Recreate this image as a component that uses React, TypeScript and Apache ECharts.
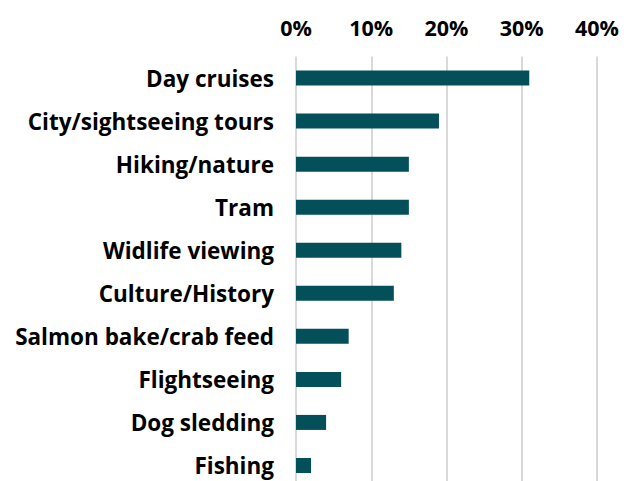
import React, { useEffect, useRef } from "react";
import * as echarts from "echarts";

const categories = [
  "Day cruises",
  "City/sightseeing tours",
  "Hiking/nature",
  "Tram",
  "Widlife viewing",
  "Culture/History",
  "Salmon bake/crab feed",
  "Flightseeing",
  "Dog sledding",
  "Fishing",
];
const values = [31, 19, 15, 15, 14, 13, 7, 6, 4, 2];
const xTicks = { min: 0, max: 40, interval: 10 };

export default function App() {
  const ref = useRef<HTMLDivElement>(null);
  useEffect(() => {
    if (!ref.current) return;
    const chart = echarts.init(ref.current, null, { renderer: "svg" });
    const font = "'Open Sans', 'Segoe UI', sans-serif";
    chart.setOption({
      animation: false,
      grid: { left: 296, right: 38, top: 56.5, bottom: 0, containLabel: false },
      xAxis: {
        type: "value",
        position: "top",
        min: xTicks.min,
        max: xTicks.max,
        interval: xTicks.interval,
        axisLine: { show: false },
        axisTick: { show: false },
        axisLabel: {
          formatter: "{value}%",
          color: "#000",
          fontFamily: font,
          fontWeight: "bold",
          fontSize: 21.5,
          margin: 18,
        },
        splitLine: { show: true, lineStyle: { color: "#d9d9d9", width: 2 } },
      },
      yAxis: {
        type: "category",
        inverse: true,
        data: categories,
        axisLine: { show: false },
        axisTick: { show: false },
        axisLabel: {
          color: "#000",
          fontFamily: font,
          fontWeight: "bold",
          fontSize: 22.5,
          margin: 22,
        },
      },
      series: [
        {
          type: "bar",
          data: values,
          barWidth: 15,
          itemStyle: { color: "#03505a" },
        },
      ],
    });
    return () => chart.dispose();
  }, []);
  return (
    <div
      ref={ref}
      style={{ position: "fixed", left: 0, top: 0, width: 635, height: 487, background: "#fff" }}
    />
  );
}
